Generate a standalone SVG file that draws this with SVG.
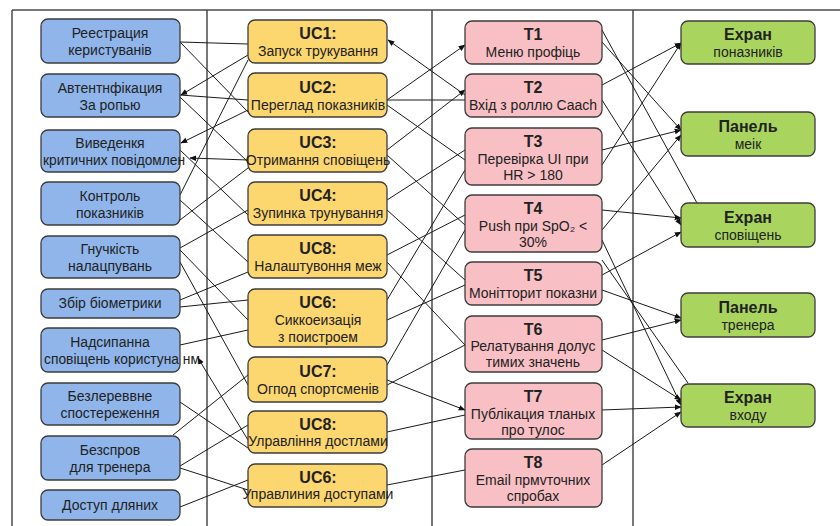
<svg xmlns="http://www.w3.org/2000/svg" width="840" height="526" viewBox="0 0 840 526">
  <defs>
    <marker id="arr" viewBox="0 0 10 10" refX="9" refY="5" markerWidth="7" markerHeight="7" orient="auto-start-reverse" markerUnits="userSpaceOnUse">
      <path d="M0,1 L10,5 L0,9 z" fill="#111"/>
    </marker>
    <style>
      .frame { stroke: #4a4a4a; stroke-width: 1.5; fill: none; }
      .box { stroke: #3c3c3c; stroke-width: 1.3; }
      .req { fill: #8fb5ea; }
      .uc { fill: #fcd66e; }
      .tst { fill: #f8c0c4; }
      .scr { fill: #a9d55f; }
      text { font-family: "Liberation Sans", Arial, sans-serif; fill: #222; text-anchor: middle; }
      .t { font-size: 14px; }
      .h { font-size: 16px; font-weight: bold; }
      .s { font-size: 14px; }
      .l { text-anchor: start; }
      .wire { stroke: #1a1a1a; stroke-width: 1; fill: none; }
      .wa { stroke: #1a1a1a; stroke-width: 1; fill: none; marker-end: url(#arr); }
    </style>
  </defs>
  <rect width="840" height="526" fill="#ffffff"/>

  <!-- table frame -->
  <g id="frame" class="frame">
    <line x1="12" y1="10" x2="840" y2="10"/>
    <line x1="12" y1="10" x2="12" y2="526"/>
    <line x1="207" y1="10" x2="207" y2="526"/>
    <line x1="432" y1="10" x2="432" y2="526"/>
    <line x1="633" y1="10" x2="633" y2="526"/>
  </g>

  <!-- connectors -->
  <g id="connectors">
    <!-- requirements to use cases -->
    <line class="wire" x1="180" y1="42" x2="248" y2="44"/>
    <line class="wire" x1="180" y1="42" x2="248" y2="112"/>
    <line class="wa" x1="248" y1="55" x2="181" y2="95"/>
    <line class="wire" x1="180" y1="95" x2="248" y2="100"/>
    <line class="wire" x1="180" y1="97" x2="248" y2="162"/>
    <line class="wa" x1="248" y1="110" x2="181" y2="143"/>
    <line class="wa" x1="248" y1="160" x2="190" y2="158"/>
    <line class="wire" x1="180" y1="150" x2="248" y2="215"/>
    <line class="wire" x1="180" y1="195" x2="248" y2="60"/>
    <line class="wire" x1="180" y1="200" x2="248" y2="262"/>
    <line class="wire" x1="180" y1="220" x2="248" y2="168"/>
    <line class="wire" x1="180" y1="248" x2="248" y2="210"/>
    <line class="wire" x1="180" y1="250" x2="248" y2="320"/>
    <line class="wire" x1="180" y1="262" x2="248" y2="385"/>
    <line class="wire" x1="180" y1="300" x2="248" y2="272"/>
    <line class="wire" x1="180" y1="307" x2="248" y2="300"/>
    <line class="wire" x1="180" y1="345" x2="248" y2="330"/>
    <line class="wa" x1="248" y1="440" x2="198" y2="358"/>
    <line class="wire" x1="180" y1="402" x2="248" y2="448"/>
    <line class="wire" x1="173" y1="435" x2="248" y2="375"/>
    <line class="wire" x1="180" y1="466" x2="248" y2="425"/>
    <line class="wire" x1="180" y1="468" x2="248" y2="490"/>
    <line class="wire" x1="180" y1="507" x2="248" y2="480"/>

    <!-- use cases to tests -->
    <line class="wa" x1="465" y1="95" x2="388" y2="40"/>
    <line class="wa" x1="387" y1="100" x2="465" y2="45"/>
    <line class="wire" x1="387" y1="100" x2="465" y2="100"/>
    <line class="wire" x1="387" y1="105" x2="465" y2="160"/>
    <line class="wa" x1="387" y1="150" x2="465" y2="90"/>
    <line class="wire" x1="387" y1="155" x2="465" y2="225"/>
    <line class="wire" x1="387" y1="200" x2="465" y2="150"/>
    <line class="wire" x1="387" y1="210" x2="465" y2="280"/>
    <line class="wire" x1="387" y1="255" x2="465" y2="215"/>
    <line class="wire" x1="387" y1="262" x2="465" y2="345"/>
    <line class="wire" x1="387" y1="300" x2="465" y2="170"/>
    <line class="wire" x1="387" y1="320" x2="465" y2="285"/>
    <line class="wire" x1="387" y1="365" x2="465" y2="230"/>
    <line class="wa" x1="387" y1="380" x2="465" y2="410"/>
    <line class="wire" x1="387" y1="385" x2="465" y2="345"/>
    <line class="wire" x1="387" y1="432" x2="465" y2="415"/>
    <line class="wire" x1="387" y1="485" x2="465" y2="470"/>

    <!-- tests to screens -->
    <line class="wire" x1="602" y1="30" x2="697" y2="203"/>
    <line class="wa" x1="602" y1="42" x2="681" y2="130"/>
    <line class="wa" x1="602" y1="85" x2="681" y2="43"/>
    <line class="wa" x1="602" y1="100" x2="681" y2="225"/>
    <line class="wa" x1="602" y1="150" x2="681" y2="130"/>
    <line class="wa" x1="602" y1="165" x2="681" y2="43"/>
    <line class="wa" x1="602" y1="210" x2="681" y2="218"/>
    <line class="wa" x1="602" y1="230" x2="681" y2="135"/>
    <line class="wa" x1="602" y1="240" x2="681" y2="405"/>
    <line class="wa" x1="602" y1="275" x2="681" y2="232"/>
    <line class="wa" x1="602" y1="290" x2="681" y2="318"/>
    <line class="wa" x1="602" y1="340" x2="681" y2="320"/>
    <line class="wa" x1="602" y1="350" x2="681" y2="400"/>
    <line class="wa" x1="602" y1="410" x2="681" y2="407"/>
    <line class="wa" x1="602" y1="465" x2="681" y2="412"/>
    <line class="wire" x1="602" y1="260" x2="688" y2="383"/>
  </g>

  <!-- requirements -->
  <g id="r1"><rect class="box req" x="41" y="19" width="139" height="44" rx="7"/><text class="t" x="110" y="38">Реестрация</text><text class="t" x="110" y="55">керистуванів</text></g>
  <g id="r2"><rect class="box req" x="41" y="74" width="139" height="43" rx="7"/><text class="t" x="110" y="93">Автентнфікация</text><text class="t" x="110" y="110">За ропью</text></g>
  <g id="r3"><rect class="box req" x="41" y="130" width="139" height="42" rx="7"/><text class="t" x="110" y="148">Виведенкя</text><text class="t l" x="43" y="165" textLength="142" lengthAdjust="spacingAndGlyphs">критичних повідомлен</text></g>
  <g id="r4"><rect class="box req" x="41" y="182" width="139" height="43" rx="7"/><text class="t" x="110" y="201">Контроль</text><text class="t" x="110" y="218">показників</text></g>
  <g id="r5"><rect class="box req" x="41" y="236" width="139" height="42" rx="7"/><text class="t" x="110" y="254">Гнучкість</text><text class="t" x="110" y="271">налацпувань</text></g>
  <g id="r6"><rect class="box req" x="41" y="289" width="139" height="29" rx="7"/><text class="t" x="110" y="308">Збір біометрики</text></g>
  <g id="r7"><rect class="box req" x="41" y="328" width="139" height="44" rx="7"/><text class="t" x="110" y="347">Надсипанна</text><text class="t l" x="44" y="364" textLength="156" lengthAdjust="spacingAndGlyphs">сповіщень користуна нм</text></g>
  <g id="r8"><rect class="box req" x="41" y="383" width="139" height="42" rx="7"/><text class="t" x="110" y="401">Безлереввне</text><text class="t" x="110" y="418">спостереження</text></g>
  <g id="r9"><rect class="box req" x="41" y="436" width="139" height="44" rx="7"/><text class="t" x="110" y="455">Безспров</text><text class="t" x="110" y="472">для тренера</text></g>
  <g id="r10"><rect class="box req" x="41" y="490" width="139" height="30" rx="7"/><text class="t" x="110" y="510">Доступ дляних</text></g>

  <!-- use cases -->
  <g id="uc1"><rect class="box uc" x="248" y="20" width="139" height="43" rx="7"/><text class="h" x="318" y="39">UC1:</text><text class="t" x="318" y="56">Запуск трукування</text></g>
  <g id="uc2"><rect class="box uc" x="248" y="73" width="139" height="44" rx="7"/><text class="h" x="318" y="93">UC2:</text><text class="t" x="318" y="110">Переглад показників</text></g>
  <g id="uc3"><rect class="box uc" x="248" y="129" width="139" height="43" rx="7"/><text class="h" x="318" y="148">UC3:</text><text class="t" x="318" y="165">Отримання сповіщень</text></g>
  <g id="uc4"><rect class="box uc" x="248" y="182" width="139" height="43" rx="7"/><text class="h" x="318" y="201">UC4:</text><text class="t" x="318" y="218">Зупинка трунування</text></g>
  <g id="uc8a"><rect class="box uc" x="248" y="235" width="139" height="43" rx="7"/><text class="h" x="318" y="254">UC8:</text><text class="t" x="318" y="271">Налаштувоння меж</text></g>
  <g id="uc6a"><rect class="box uc" x="248" y="289" width="139" height="58" rx="7"/><text class="h" x="318" y="308">UC6:</text><text class="t" x="318" y="325">Сиккоеизація</text><text class="t" x="318" y="342">з поистроем</text></g>
  <g id="uc7"><rect class="box uc" x="248" y="357" width="139" height="45" rx="7"/><text class="h" x="318" y="377">UC7:</text><text class="t" x="318" y="394">Огпод спортсменів</text></g>
  <g id="uc8b"><rect class="box uc" x="248" y="411" width="139" height="42" rx="7"/><text class="h" x="318" y="430">UC8:</text><text class="t" x="318" y="446">Улравління достлами</text></g>
  <g id="uc6b"><rect class="box uc" x="248" y="464" width="139" height="43" rx="7"/><text class="h" x="318" y="483">UC6:</text><text class="t" x="318" y="499">Управлиния доступами</text></g>

  <!-- tests -->
  <g id="t1"><rect class="box tst" x="465" y="21" width="137" height="43" rx="7"/><text class="h" x="533" y="40">T1</text><text class="t" x="533" y="57">Меню профіць</text></g>
  <g id="t2"><rect class="box tst" x="465" y="74" width="137" height="43" rx="7"/><text class="h" x="533" y="93">T2</text><text class="t" x="533" y="110">Вхід з роллю Caach</text></g>
  <g id="t3"><rect class="box tst" x="465" y="128" width="137" height="57" rx="7"/><text class="h" x="533" y="147">T3</text><text class="t" x="533" y="164">Перевірка UI при</text><text class="t" x="533" y="180">HR &gt; 180</text></g>
  <g id="t4"><rect class="box tst" x="465" y="195" width="137" height="57" rx="7"/><text class="h" x="533" y="214">T4</text><text class="t" x="533" y="231">Push при SpO₂ &lt;</text><text class="t" x="533" y="247">30%</text></g>
  <g id="t5"><rect class="box tst" x="465" y="262" width="137" height="43" rx="7"/><text class="h" x="533" y="281">T5</text><text class="t" x="533" y="298">Монітторит показни</text></g>
  <g id="t6"><rect class="box tst" x="465" y="316" width="137" height="56" rx="7"/><text class="h" x="533" y="335">T6</text><text class="t" x="533" y="351">Релатування долус</text><text class="t" x="533" y="367">тимих значень</text></g>
  <g id="t7"><rect class="box tst" x="465" y="383" width="137" height="56" rx="7"/><text class="h" x="533" y="402">T7</text><text class="t" x="533" y="419">Публікация тланых</text><text class="t" x="533" y="435">про  тулос</text></g>
  <g id="t8"><rect class="box tst" x="465" y="449" width="137" height="58" rx="7"/><text class="h" x="533" y="468">T8</text><text class="t" x="533" y="485">Email прмvточних</text><text class="t" x="533" y="501">спробах</text></g>

  <!-- screens -->
  <g id="s1"><rect class="box scr" x="681" y="21" width="134" height="43" rx="7"/><text class="h" x="748" y="40">Ехран</text><text class="s" x="748" y="57">поназників</text></g>
  <g id="s2"><rect class="box scr" x="681" y="112" width="134" height="44" rx="7"/><text class="h" x="748" y="132">Панель</text><text class="s" x="748" y="149">меік</text></g>
  <g id="s3"><rect class="box scr" x="681" y="203" width="134" height="44" rx="7"/><text class="h" x="748" y="223">Ехран</text><text class="s" x="748" y="240">сповіщень</text></g>
  <g id="s4"><rect class="box scr" x="681" y="293" width="134" height="44" rx="7"/><text class="h" x="748" y="313">Панель</text><text class="s" x="748" y="330">тренера</text></g>
  <g id="s5"><rect class="box scr" x="681" y="384" width="134" height="43" rx="7"/><text class="h" x="748" y="403">Ехран</text><text class="s" x="748" y="420">входу</text></g>
</svg>
